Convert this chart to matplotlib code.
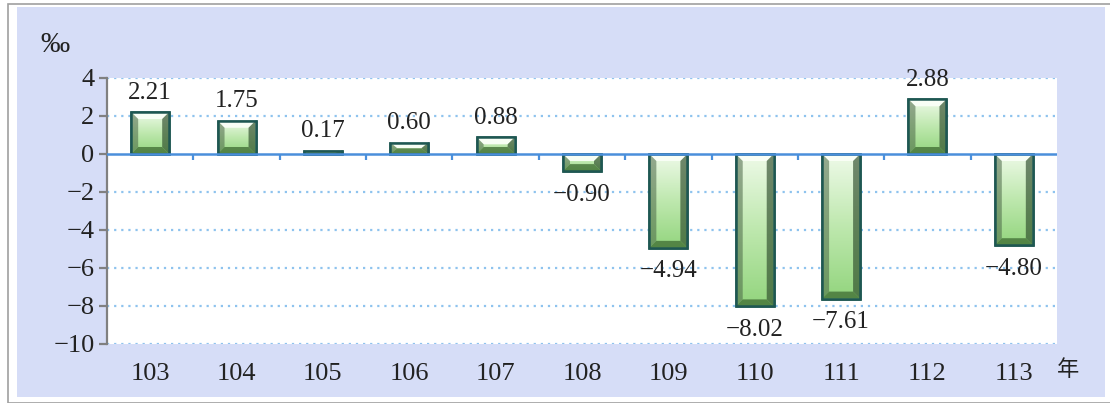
import matplotlib
matplotlib.use("Agg")
import matplotlib.pyplot as plt
import numpy as np
from matplotlib.patches import Rectangle, Polygon
from matplotlib.colors import LinearSegmentedColormap

years = ["103", "104", "105", "106", "107", "108", "109", "110", "111", "112", "113"]
values = [2.21, 1.75, 0.17, 0.60, 0.88, -0.90, -4.94, -8.02, -7.61, 2.88, -4.80]
yticks = [4, 2, 0, -2, -4, -6, -8, -10]

SERIF = ["Liberation Serif", "DejaVu Serif"]
CJK = ["Noto Sans CJK TC", "DejaVu Sans"]

fig = plt.figure(figsize=(11.10, 4.03), dpi=100)
W, H = 1110, 403

# outer frame and lavender chart area
fig.patches.append(Rectangle((8 / W, 0), 1.2, 1 - 4 / H, transform=fig.transFigure,
                             facecolor="white", edgecolor="#A0A0A0", lw=1.2, zorder=-2))
fig.patches.append(Rectangle((17 / W, 1 - 397 / H), (1105 - 17) / W, (397 - 7) / H,
                             transform=fig.transFigure, facecolor="#D6DDF7",
                             edgecolor="none", zorder=-1))

ax = fig.add_axes([107 / W, 1 - 344 / H, (1057 - 107) / W, (344 - 78) / H])
ax.set_facecolor("white")
ax.set_xlim(-0.5, len(years) - 0.5)
ax.set_ylim(-10, 4)

x = np.arange(len(years))
bw = 0.44
bars = ax.bar(x, values, width=bw, facecolor="#9ED88C", edgecolor="#1E5752",
              linewidth=1.8, zorder=3)

fig.canvas.draw()
inv = ax.transData.inverted()
p0 = inv.transform((0, 0))
p1 = inv.transform((7, 7))
bxd, byd = p1[0] - p0[0], p1[1] - p0[1]

cmap = LinearSegmentedColormap.from_list("g", ["#EEFAE8", "#BEE8AE", "#93D57E"])
grad = np.linspace(0, 1, 100).reshape(-1, 1)
side_l = LinearSegmentedColormap.from_list("sl", ["#8FA58A", "#5E7E58"])
for b in bars:
    x0, y0 = b.get_x(), b.get_y()
    w, h = b.get_width(), b.get_height()
    ylo, yhi = min(y0, y0 + h), max(y0, y0 + h)
    im = ax.imshow(grad, cmap=cmap, extent=(x0, x0 + w, ylo, yhi), origin="upper",
                   aspect="auto", zorder=3.1)
    im.set_clip_path(b)
    bx = min(bxd, w / 2)
    by = min(byd, (yhi - ylo) / 2)
    xa, xb = x0, x0 + w
    top = [(xa, yhi), (xb, yhi), (xb - bx, yhi - by), (xa + bx, yhi - by)]
    bot = [(xa, ylo), (xb, ylo), (xb - bx, ylo + by), (xa + bx, ylo + by)]
    left = [(xa, yhi), (xa + bx, yhi - by), (xa + bx, ylo + by), (xa, ylo)]
    right = [(xb, yhi), (xb - bx, yhi - by), (xb - bx, ylo + by), (xb, ylo)]
    ax.add_patch(Polygon(top, closed=True, facecolor="#FAFFF7", alpha=0.95, lw=0, zorder=3.2))
    ax.add_patch(Polygon(left, closed=True, facecolor="#4A6646", alpha=0.55, lw=0, zorder=3.2))
    ax.add_patch(Polygon(right, closed=True, facecolor="#2C4A2A", alpha=0.65, lw=0, zorder=3.2))
    ax.add_patch(Polygon(bot, closed=True, facecolor="#3E6A32", alpha=0.75, lw=0, zorder=3.2))
    r = Rectangle((x0, ylo), w, yhi - ylo, facecolor="none", edgecolor="#1E5752",
                  lw=1.8, zorder=3.3)
    ax.add_patch(r)

ax.set_xlim(-0.5, len(years) - 0.5)
ax.set_ylim(-10, 4)

for xi, v in zip(x, values):
    txt = f"{v:.2f}".replace("-", "\u2212")
    if v >= 0:
        ax.annotate(txt, (xi, v), xytext=(0, 6), textcoords="offset points",
                    ha="center", va="bottom", fontsize=18, family=SERIF, color="#222222",
                    zorder=5)
    else:
        ax.annotate(txt, (xi, v), xytext=(0, -9), textcoords="offset points",
                    ha="center", va="top", fontsize=18, family=SERIF, color="#222222",
                    zorder=5)

# grid
for yt in yticks:
    if yt != 0:
        ax.axhline(yt, color="#8EC3EE", lw=1.6, ls=(0, (1, 2.2)), zorder=1)
ax.axhline(0, color="#4A8FDB", lw=1.8, zorder=4)

for s in ["top", "right", "bottom"]:
    ax.spines[s].set_visible(False)
ax.spines["left"].set_color("#808080")
ax.spines["left"].set_linewidth(1.6)

ax.set_yticks(yticks)
ax.set_yticklabels([str(t).replace("-", "\u2212") for t in yticks], family=SERIF,
                   fontsize=19, color="#222222")
ax.tick_params(axis="y", length=6, width=1.6, color="#808080", pad=3)

ax.set_xticks(x)
ax.set_xticklabels(years, family=SERIF, fontsize=19, color="#222222")
ax.tick_params(axis="x", length=0, pad=14)

# category separator ticks on zero line
ax.vlines(np.arange(0.5, len(years) - 0.5, 1.0), -0.3, 0, color="#4A8FDB", lw=1.6, zorder=4)

fig.text(40 / W, 1 - 45 / H, "‰", family=SERIF, fontsize=21, color="#222222",
         ha="left", va="center")
fig.text(1068 / W, 1 - 370 / H, "年", family=CJK, fontsize=16, color="#222222",
         ha="center", va="center")

fig.savefig("out.png", dpi=100)
